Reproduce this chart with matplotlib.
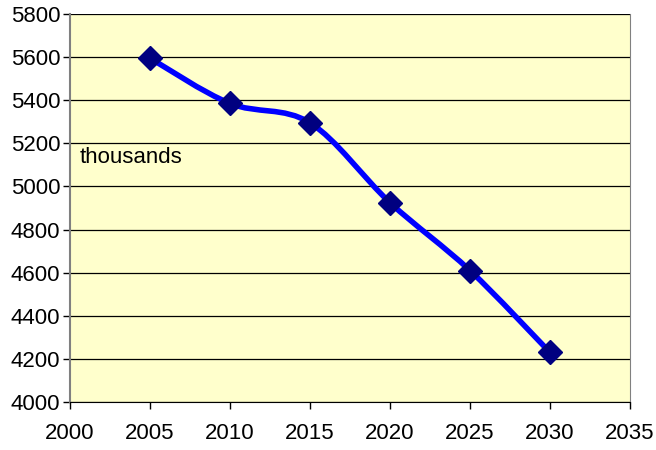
import matplotlib
matplotlib.use("Agg")
import matplotlib.pyplot as plt
from matplotlib.path import Path
from matplotlib.patches import PathPatch

years = [2005, 2010, 2015, 2020, 2025, 2030]
population = [5595, 5385, 5295, 4925, 4610, 4230]
x_ticks = [2000, 2005, 2010, 2015, 2020, 2025, 2030, 2035]
y_ticks = [4000, 4200, 4400, 4600, 4800, 5000, 5200, 5400, 5600, 5800]

plt.rcParams['font.family'] = ['Liberation Sans', 'DejaVu Sans']

fig = plt.figure(figsize=(6.56, 4.5), dpi=100)
ax = fig.add_axes([70 / 656, 48 / 450, 560 / 656, 388 / 450])
ax.set_facecolor('#FFFFCC')

# smoothed line like excel (bezier through the points)
pts = list(zip(years, population))
verts = [pts[0]]
codes = [Path.MOVETO]
for i in range(len(pts) - 1):
    p0 = pts[i - 1] if i > 0 else pts[i]
    p1 = pts[i]
    p2 = pts[i + 1]
    p3 = pts[i + 2] if i + 2 < len(pts) else pts[i + 1]
    c1 = (p1[0] + (p2[0] - p0[0]) / 6, p1[1] + (p2[1] - p0[1]) / 6)
    c2 = (p2[0] - (p3[0] - p1[0]) / 6, p2[1] - (p3[1] - p1[1]) / 6)
    verts += [c1, c2, p2]
    codes += [Path.CURVE4, Path.CURVE4, Path.CURVE4]
ax.add_patch(PathPatch(Path(verts, codes), facecolor='none', edgecolor='#0000FF',
                       lw=4, zorder=3, capstyle='round', joinstyle='round'))
ax.plot(years, population, linestyle='none', marker='D', markersize=12.5,
        color='#000080', zorder=4)

ax.set_xlim(2000, 2035)
ax.set_ylim(4000, 5800)
ax.set_xticks(x_ticks)
ax.set_yticks(y_ticks)
ax.yaxis.grid(True, color='black', lw=0.9)
ax.set_axisbelow(True)

ax.tick_params(axis='both', direction='out', length=5, width=1, labelsize=16, colors='black')
ax.tick_params(axis='x', pad=10)
ax.tick_params(axis='y', pad=2)

ax.spines['top'].set_visible(False)
ax.spines['right'].set_color('#808080')
ax.spines['left'].set_color('#808080')
ax.spines['left'].set_linewidth(1.5)
ax.spines['bottom'].set_color('black')

ax.text(0.018, 0.631, 'thousands', transform=ax.transAxes, fontsize=16, va='center', ha='left')

fig.savefig('out.png', dpi=100)
